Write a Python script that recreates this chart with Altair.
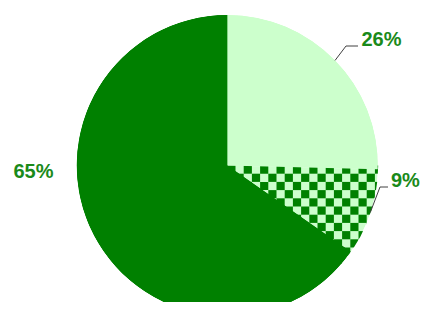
import altair as alt
import pandas as pd

# ---- data ----
slices = ["s1", "s2", "s3"]
shares = [25.4, 9.3, 65.3]
labels = ["26%", "9%", "65%"]

# ---- layout / style ----
W, H = 414, 294
CX, CY, R = 219.3, 157.5, 150.5
CELL = 8.2
DARK, LIGHT = "#008000", "#ccffcc"
TEXT = "#1a8a1a"
LINE = "#404040"

df = pd.DataFrame({"slice": slices, "share": shares, "label": labels, "order": list(range(len(slices)))})

label_layout = {
    "26%": {"tx": 353.5, "ty": 38, "ex": 338, "ey": 38, "hx": 350},
    "9%": {"tx": 383, "ty": 178.5, "ex": 372, "ey": 179, "hx": 380},
    "65%": {"tx": 5.5, "ty": 170},
}
lab = df.copy()
for k in ["tx", "ty", "ex", "ey", "hx"]:
    lab[k] = [label_layout[l].get(k) for l in labels]

xs = alt.Scale(domain=[0, W], nice=False, zero=False)
ys = alt.Scale(domain=[0, H], reverse=True, nice=False, zero=False)

theta = alt.Theta("share:Q", stack=True)
order = alt.Order("order:Q")
color = alt.Color("slice:N", scale=alt.Scale(domain=slices, range=[LIGHT, LIGHT, DARK]), legend=None)

base = alt.Chart(df).encode(theta=theta, order=order, color=color,
                            x=alt.value(CX), y=alt.value(CY))
pie = base.mark_arc(radius=R, clip=True)

NC, NR = 20, 12
checker = (
    alt.Chart(alt.sequence(0, NC * NR, as_="i"))
    .transform_calculate(col=f"datum.i % {NC}", row=f"floor(datum.i / {NC})")
    .transform_filter("(datum.col + datum.row) % 2 == 0")
    .transform_calculate(
        px=f"{CX} + datum.col * {CELL}",
        py=f"{CY} + datum.row * {CELL}",
        px2=f"{CX} + (datum.col + 1) * {CELL}",
        py2=f"{CY} + (datum.row + 1) * {CELL}",
    )
    .mark_rect(color=DARK, clip=True)
    .encode(
        x=alt.X("px:Q", scale=xs, axis=None), x2="px2:Q",
        y=alt.Y("py:Q", scale=ys, axis=None), y2="py2:Q",
    )
)

cover = base.mark_arc(radius=R, clip=True).encode(
    opacity=alt.condition("datum.slice == 's2'", alt.value(0), alt.value(1))
)

ring = alt.Chart(pd.DataFrame({"k": [0]})).mark_arc(
    theta=0, theta2=6.2832, radius=R + 300, radius2=R + 0.4, color="white", clip=True
).encode(x=alt.value(CX), y=alt.value(CY))

lead = (
    alt.Chart(lab)
    .transform_window(cum="sum(share)", sort=[alt.SortField("order")], frame=[None, 0])
    .transform_joinaggregate(total="sum(share)")
    .transform_calculate(mid="(datum.cum - datum.share / 2) / datum.total * 2 * PI")
    .transform_calculate(sx=f"{CX} + {R} * sin(datum.mid)", sy=f"{CY} - {R} * cos(datum.mid)")
    .transform_filter("isValid(datum.ex)")
)
diag = lead.mark_rule(color=LINE, strokeWidth=1).encode(
    x=alt.X("sx:Q", scale=xs, axis=None), y=alt.Y("sy:Q", scale=ys, axis=None),
    x2="ex:Q", y2="ey:Q",
)
horiz = lead.mark_rule(color=LINE, strokeWidth=1).encode(
    x=alt.X("ex:Q", scale=xs, axis=None), x2="hx:Q",
    y=alt.Y("ey:Q", scale=ys, axis=None),
)

text = alt.Chart(lab).mark_text(
    align="left", baseline="alphabetic", font="Liberation Sans",
    fontSize=20, fontWeight="bold", color=TEXT,
).encode(
    x=alt.X("tx:Q", scale=xs, axis=None),
    y=alt.Y("ty:Q", scale=ys, axis=None),
    text="label:N",
)

chart = alt.layer(pie, checker, cover, ring, diag, horiz, text).properties(
    width=W, height=H, padding=0,
    autosize=alt.AutoSizeParams(type="none"),
    background="white",
).configure_view(stroke=None)

chart.save("out.html", embed_options={"renderer": "svg", "actions": False})
